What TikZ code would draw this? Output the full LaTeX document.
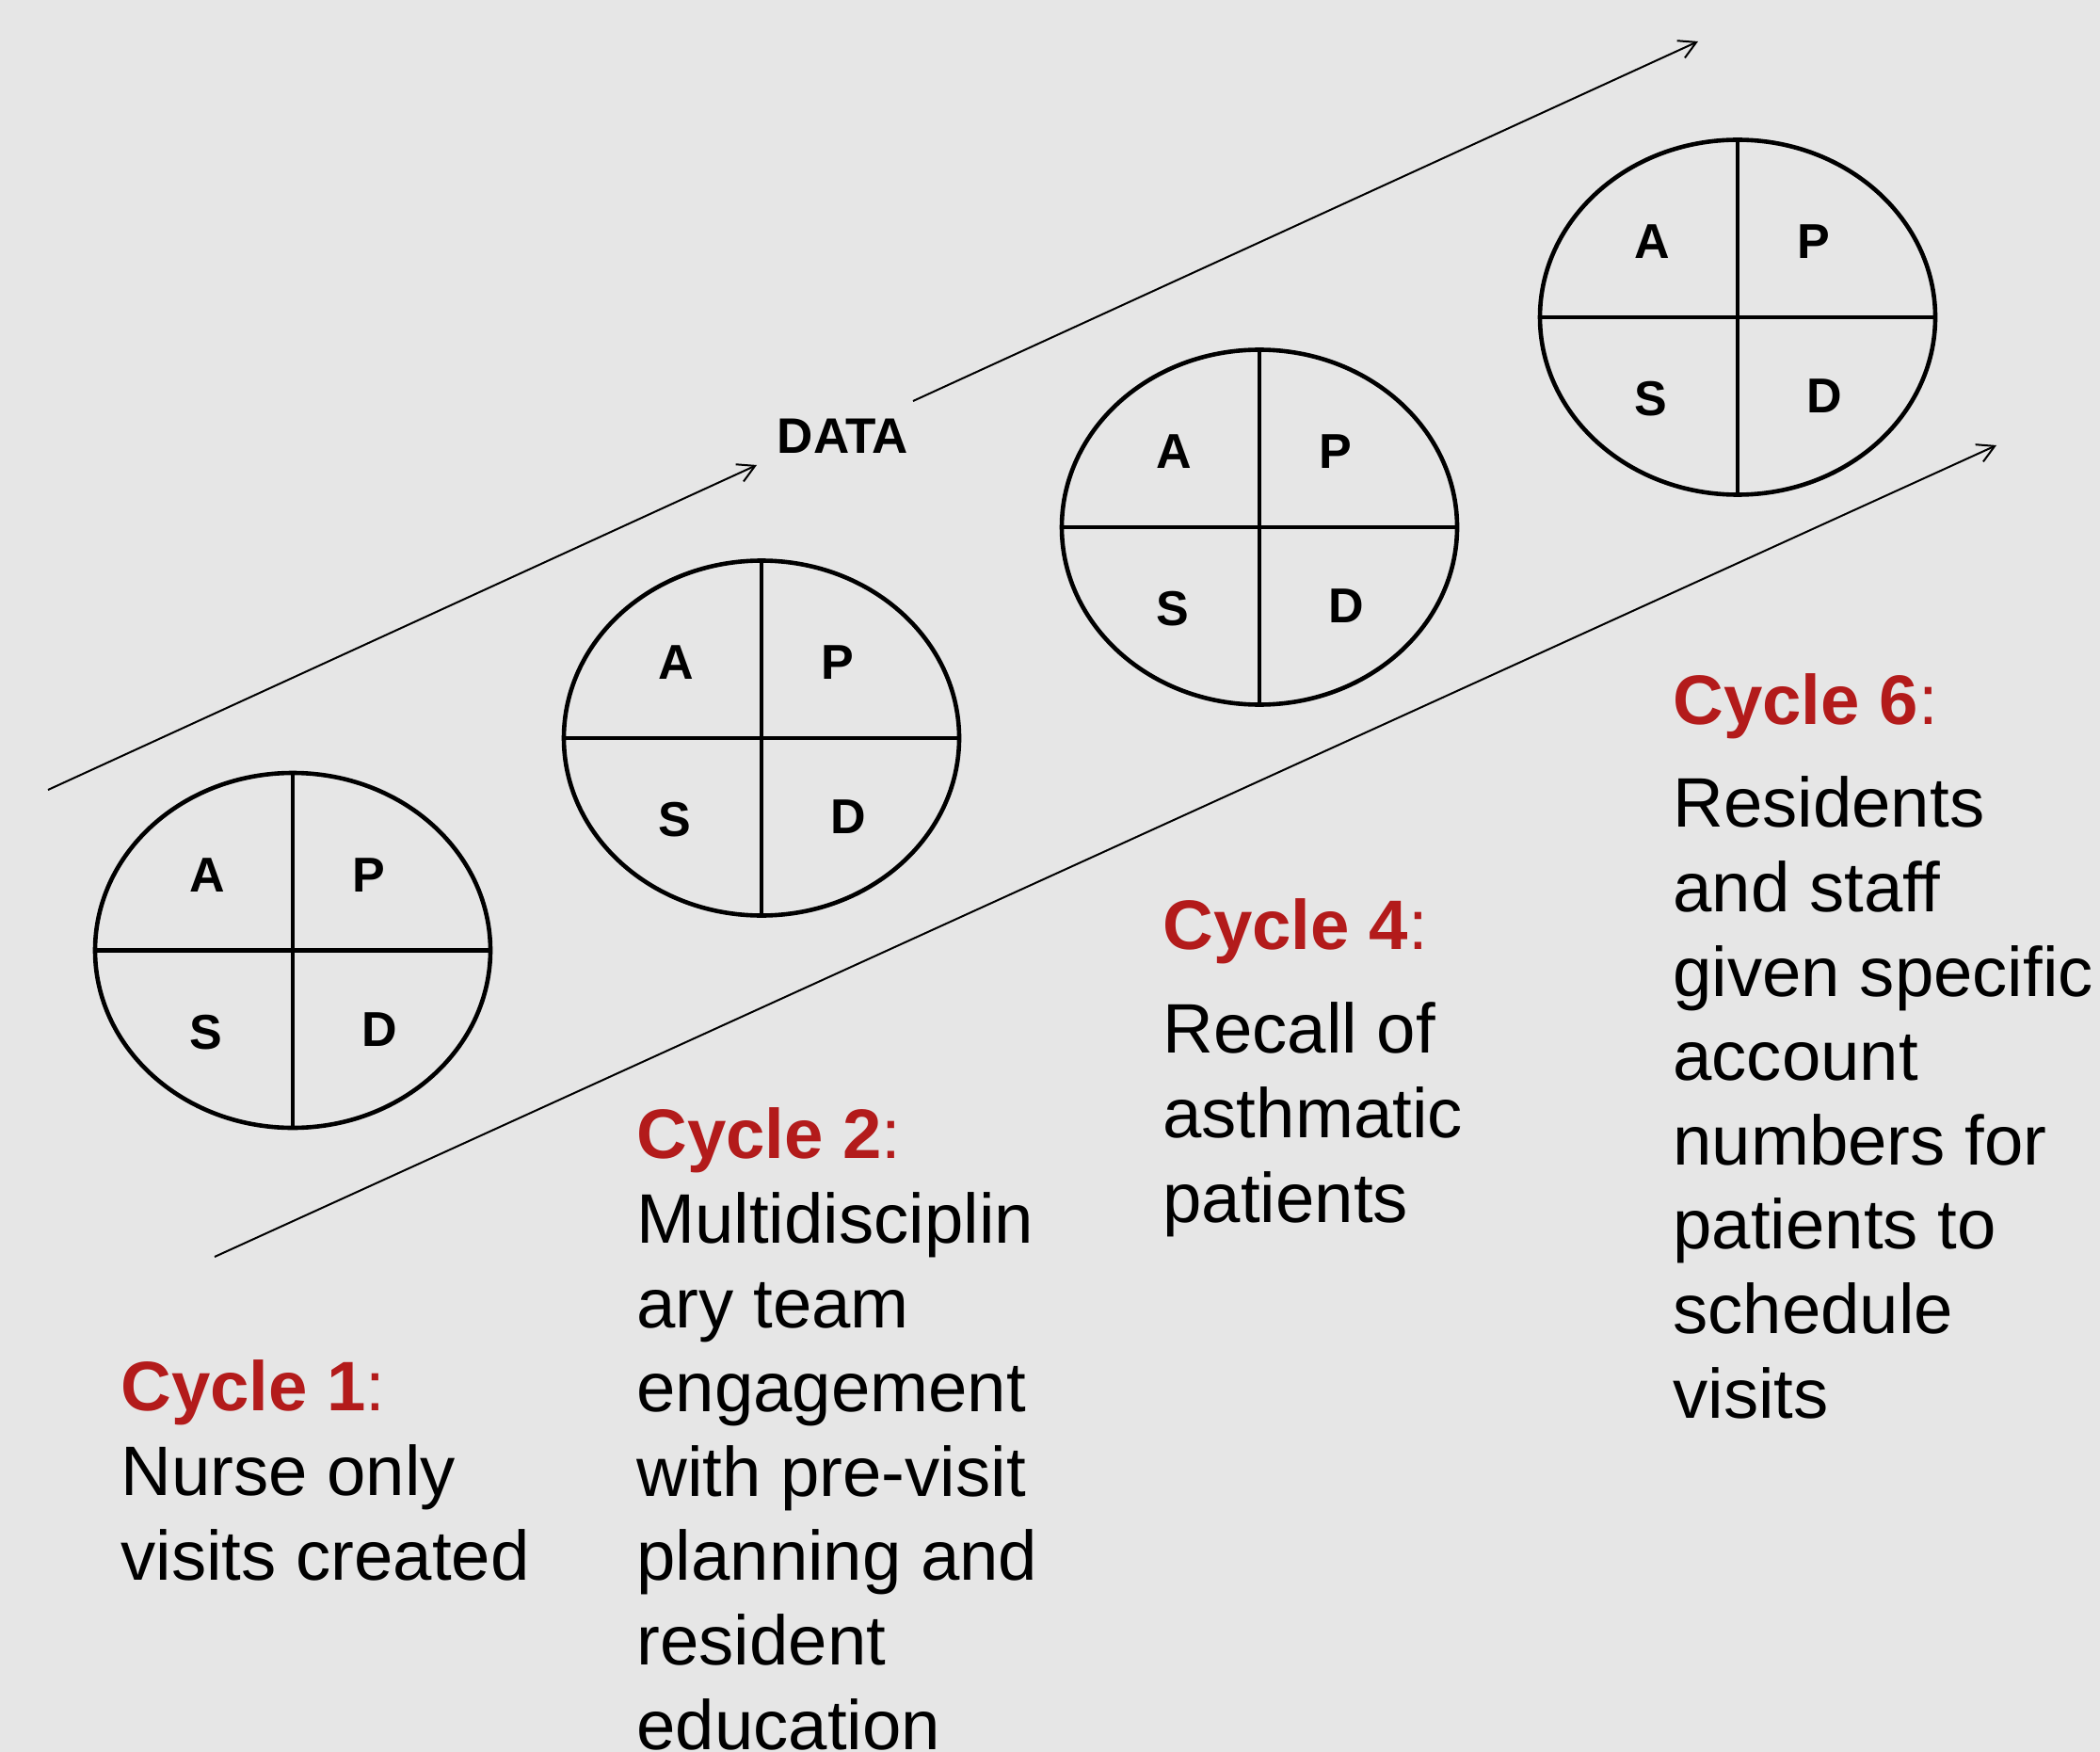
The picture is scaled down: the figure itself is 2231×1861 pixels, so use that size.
\documentclass[tikz,border=0pt]{standalone}
\usepackage{fontspec}
\setmainfont{Liberation Sans}
\usetikzlibrary{arrows.meta,shapes.geometric,positioning}
\definecolor{slidegray}{RGB}{230,230,230}
\definecolor{cyclered}{RGB}{179,27,27}

\begin{document}
\begin{tikzpicture}[x=0.5pt,y=-0.5pt,
  pdsa/.style={draw,ellipse,line width=2.3pt,minimum width=210pt,minimum height=188.5pt,inner sep=0pt},
  letter/.style={font=\bfseries\fontsize{26}{30}\selectfont},
  cyc/.style={anchor=base west,align=left,inner sep=0pt,font=\fontsize{37.2}{44.8}\selectfont},
  >={Straight Barb[length=9pt,width=10pt]}, flow/.style={->,line width=1pt}]
  \fill[slidegray] (0,0) rectangle (2231,1861);
  \useasboundingbox (0,0) rectangle (2231,1861);
  % PDSA circles
  \foreach \n/\x/\y in {1/311/1009.5, 2/809/784, 3/1338/560, 4/1846/337}{
    \node[pdsa] (c\n) at (\x,\y) {};
    \draw[line width=2.3pt] (c\n.north) -- (c\n.south) (c\n.west) -- (c\n.east);
    \path (c\n) ++(-91,-80) node[letter]{A} ++(172,0) node[letter]{P}
          (c\n) ++(-92,87) node[letter]{S} ++(184,-3) node[letter]{D};
  }
  % data arrows
  \coordinate (up0) at (51,839);
  \coordinate (up1) at (804,494);
  \node[font=\bfseries\fontsize{26.5}{30}\selectfont,anchor=base,inner sep=0pt] (data) at (895.5,481) {DATA};
  \coordinate (up2) at (970,426);
  \coordinate (up3) at (1804,44);
  \coordinate (lo0) at (228,1335);
  \coordinate (lo1) at (2121,473);
  \draw[flow] (up0) -- (up1);
  \draw[flow] (up2) -- (up3);
  \draw[flow] (lo0) -- (lo1);
  % cycle notes (placed at the baseline of the last line)
  \node[cyc] (cyc1) at (128,1678) {\textcolor{cyclered}{\textbf{Cycle 1}:}\\Nurse only\\visits created};
  \node[cyc] (cyc2) at (676,1858) {\textcolor{cyclered}{\textbf{Cycle 2}:}\\Multidisciplin\\ary team\\engagement\\with pre-visit\\planning and\\resident\\education};
  \node[cyc] (cyc4) at (1235,1298) {\textcolor{cyclered}{\textbf{Cycle 4}:}\\[10.5pt]Recall of\\asthmatic\\patients};
  \node[cyc] (cyc6) at (1777,1506) {\textcolor{cyclered}{\textbf{Cycle 6}:}\\[10pt]Residents\\and staff\\given specific\\account\\numbers for\\patients to\\schedule\\visits};
\end{tikzpicture}
\end{document}
